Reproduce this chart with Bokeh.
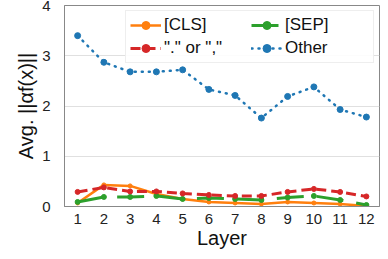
from bokeh.plotting import figure
from bokeh.models import FixedTicker, Legend, LegendItem, Range1d
from bokeh.embed import file_html
from bokeh.resources import INLINE

layers = [1, 2, 3, 4, 5, 6, 7, 8, 9, 10, 11, 12]
cls_vals = [0.07, 0.43, 0.41, 0.25, 0.15, 0.09, 0.07, 0.05, 0.09, 0.07, 0.05, 0.01]
sep_vals = [0.09, 0.19, 0.19, 0.21, 0.15, 0.17, 0.15, 0.13, 0.18, 0.21, 0.13, 0.03]
punct_vals = [0.29, 0.38, 0.30, 0.30, 0.26, 0.23, 0.21, 0.21, 0.29, 0.35, 0.29, 0.20]
other_vals = [3.40, 2.87, 2.68, 2.68, 2.72, 2.33, 2.21, 1.76, 2.19, 2.38, 1.93, 1.78]
y_ticks = [0, 1, 2, 3, 4]

FONT = "Liberation Sans"

p = figure(width=380, height=251, output_backend="svg", toolbar_location=None,
           x_range=Range1d(0.5, 12.5), y_range=Range1d(0, 4),
           min_border_left=64, min_border_right=1, min_border_top=5, min_border_bottom=10)

p.background_fill_color = "white"
p.border_fill_color = "white"
p.outline_line_color = "#888888"
p.outline_line_width = 1

p.xgrid.grid_line_color = None
p.ygrid.grid_line_color = "#e0e0e0"
p.ygrid.grid_line_width = 1

for ax in (p.xaxis[0], p.yaxis[0]):
    ax.axis_line_color = "#888888"
    ax.major_tick_line_color = None
    ax.minor_tick_line_color = None
    ax.major_tick_out = 0
    ax.major_tick_in = 0
    ax.minor_tick_out = 0
    ax.minor_tick_in = 0
    ax.major_label_text_font = FONT
    ax.major_label_text_font_size = "15px"
    ax.major_label_text_color = "#222222"
    ax.axis_label_text_font = FONT
    ax.axis_label_text_font_style = "normal"
    ax.axis_label_text_font_size = "20px"
    ax.axis_label_text_color = "#111111"

p.xaxis.ticker = FixedTicker(ticks=layers)
p.yaxis.ticker = FixedTicker(ticks=y_ticks)
p.xaxis.major_label_standoff = 7
p.yaxis.major_label_standoff = 14
p.xaxis.axis_label = "Layer"
p.yaxis.axis_label = "Avg. ||αf(x)||"
p.xaxis.axis_label_standoff = 0
p.yaxis.axis_label_standoff = 2

r_other = p.line(layers, other_vals, line_color="#1f77b4", line_width=2.5,
                 line_dash="1 6", line_cap="round")
m_other = p.scatter(layers, other_vals, size=6, color="#1f77b4")

r_cls = p.line(layers, cls_vals, line_color="#ff7f0e", line_width=2.5)
m_cls = p.scatter(layers, cls_vals, size=4, color="#ff7f0e")

r_sep = p.line(layers, sep_vals, line_color="#2ca02c", line_width=3,
               line_dash="27 13")
m_sep = p.scatter(layers, sep_vals, size=5, color="#2ca02c")

r_punct = p.line(layers, punct_vals, line_color="#d62728", line_width=3,
                 line_dash="10 5")
m_punct = p.scatter(layers, punct_vals, size=5, color="#d62728")

legend = Legend(items=[
    LegendItem(label="[CLS]", renderers=[r_cls, m_cls]),
    LegendItem(label='"." or ","', renderers=[r_punct, m_punct]),
    LegendItem(label="[SEP]", renderers=[r_sep, m_sep]),
    LegendItem(label="Other", renderers=[r_other, m_other]),
], location="top_right", ncols=2)
legend.label_text_font = FONT
legend.label_text_font_size = "17px"
legend.label_text_color = "#111111"
legend.glyph_width = 31
legend.glyph_height = 20
legend.label_height = 20
legend.label_width = 84
legend.spacing = 3
legend.padding = 4
legend.margin = 5
legend.label_standoff = 3
legend.border_line_color = "#dddddd"
legend.background_fill_alpha = 0.9
p.add_layout(legend)

open("out.html", "w").write(file_html(p, INLINE))
